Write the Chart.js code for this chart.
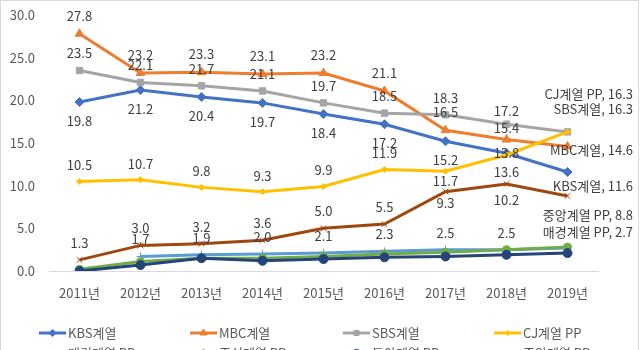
<!DOCTYPE html>
<html>
<head>
<meta charset="utf-8">
<script src="https://cdn.jsdelivr.net/npm/chart.js@4.4.1/dist/chart.umd.min.js"></script>
<style>
  body { margin: 0; background: #fff; }
  #wrap { width: 640px; height: 350px; }
</style>
</head>
<body>
<div id="wrap"><canvas id="chart" width="640" height="350"></canvas></div>
<script>
const years = ["2011년", "2012년", "2013년", "2014년", "2015년", "2016년", "2017년", "2018년", "2019년"];
const yTicks = [0, 5, 10, 15, 20, 25, 30];

const kbs    = [19.8, 21.2, 20.4, 19.7, 18.4, 17.2, 15.2, 13.8, 11.6];
const mbc    = [27.8, 23.2, 23.3, 23.1, 23.2, 21.1, 16.5, 15.4, 14.6];
const sbs    = [23.5, 22.1, 21.7, 21.1, 19.7, 18.5, 18.3, 17.2, 16.3];
const cj     = [10.5, 10.7, 9.8, 9.3, 9.9, 11.9, 11.7, 13.6, 16.3];
const maekyung = [null, 1.7, 1.9, 2.0, 2.1, 2.3, 2.5, 2.5, 2.7];
const chosun = [0.2, 1.1, 1.5, 1.5, 1.7, 2.0, 2.2, 2.5, 2.8];
const donga  = [0.0, 0.7, 1.5, 1.2, 1.4, 1.6, 1.7, 1.9, 2.1];
const joongang = [1.3, 3.0, 3.2, 3.6, 5.0, 5.5, 9.3, 10.2, 8.8];

const FONT = "'Noto Sans CJK KR', 'Malgun Gothic', sans-serif";
Chart.defaults.font.family = FONT;

function series(label, data, color, style, radius, extra) {
  return Object.assign({
    label: label,
    data: data,
    borderColor: color,
    backgroundColor: color,
    pointBackgroundColor: color,
    pointBorderColor: color,
    pointStyle: style,
    pointRadius: radius,
    pointBorderWidth: 1,
    borderWidth: 3,
    tension: 0,
    spanGaps: false
  }, extra || {});
}

const datasets = [
  series("KBS계열", kbs, "#4472C4", "rectRot", 4.5, { labelDy: 19, labelFix: { 7: 0 }, endDy: 14 }),
  series("MBC계열", mbc, "#ED7D31", "triangle", 5, { labelDy: -18, labelFix: { 7: -12 }, endDy: 4 }),
  series("SBS계열", sbs, "#A5A5A5", "rect", 4.5, { labelDy: -17, labelFix: { 7: -13 }, endDy: -23 }),
  series("CJ계열 PP", cj, "#FFC000", "rectRot", 3, { labelDy: -16, labelFix: { 6: 10, 7: 17 }, endDy: -38 }),
  series("매경계열 PP", maekyung, "#5B9BD5", "cross", 4, { labelDy: -17, endDy: -16 }),
  series("조선계열 PP", chosun, "#70AD47", "circle", 4),
  series("동아계열 PP", donga, "#264478", "circle", 4.5),
  series("중앙계열 PP", joongang, "#9E480E", "crossRot", 4, { labelDy: -17, labelFix: { 6: 11, 7: 16 }, endDy: 19 })
];
datasets.forEach((d, i) => { d.order = datasets.length - i; });

const labelPlugin = {
  id: "valueLabels",
  afterDatasetsDraw(chart) {
    const ctx = chart.ctx;
    ctx.save();
    ctx.font = "13px " + FONT;
    ctx.fillStyle = "#404040";
    ctx.textBaseline = "middle";
    chart.data.datasets.forEach((ds, i) => {
      if (ds.labelDy === undefined) return;
      const meta = chart.getDatasetMeta(i);
      const last = ds.data.length - 1;
      ds.data.forEach((v, j) => {
        if (v === null) return;
        const pt = meta.data[j];
        if (j === last) {
          ctx.textAlign = "right";
          ctx.fillText(ds.label + ", " + v.toFixed(1), 633, pt.y + ds.endDy);
        } else {
          const dy = ds.labelFix && ds.labelFix[j] !== undefined ? ds.labelFix[j] : ds.labelDy;
          ctx.textAlign = "center";
          ctx.fillText(v.toFixed(1), pt.x, pt.y + dy);
        }
      });
    });
    ctx.restore();
  }
};

const legendPlugin = {
  id: "gridLegend",
  afterDraw(chart) {
    const ctx = chart.ctx;
    const cols = [39, 190, 343, 494];
    const rows = [333, 353];
    ctx.save();
    ctx.font = "13px " + FONT;
    ctx.textBaseline = "middle";
    ctx.textAlign = "left";
    chart.data.datasets.forEach((ds, i) => {
      const x = cols[i % 4];
      const y = rows[Math.floor(i / 4)];
      ctx.strokeStyle = ds.borderColor;
      ctx.lineWidth = 3;
      ctx.beginPath();
      ctx.moveTo(x, y);
      ctx.lineTo(x + 27, y);
      ctx.stroke();
      ctx.fillStyle = ds.borderColor;
      ctx.lineWidth = 1;
      Chart.helpers.drawPoint(ctx, { pointStyle: ds.pointStyle, rotation: 0, radius: ds.pointRadius * 0.8, borderWidth: 1 }, x + 13.5, y);
      ctx.fillStyle = "#595959";
      ctx.fillText(ds.label, x + 29, y);
    });
    // outer frame
    ctx.strokeStyle = "#d9d9d9";
    ctx.lineWidth = 1;
    ctx.strokeRect(0.5, 0.5, 638, 360);
    ctx.restore();
  }
};

new Chart(document.getElementById("chart"), {
  type: "line",
  data: { labels: years, datasets: datasets },
  options: {
    responsive: false,
    animation: false,
    layout: { padding: { top: 15, right: 42, bottom: 0, left: 0 } },
    plugins: {
      legend: { display: false },
      tooltip: { enabled: false }
    },
    scales: {
      x: {
        offset: true,
        grid: { display: false, drawTicks: false },
        border: { display: true, color: "#d9d9d9", width: 1 },
        ticks: { color: "#595959", font: { size: 13 }, padding: 14, maxRotation: 0 },
        afterFit(scale) { scale.height = 79; }
      },
      y: {
        min: 0,
        max: 30,
        afterBuildTicks(scale) { scale.ticks = yTicks.map(v => ({ value: v })); },
        grid: { display: false, drawTicks: false },
        border: { display: false },
        ticks: { color: "#595959", font: { size: 13 }, padding: 14, callback: v => v.toFixed(1) },
        afterFit(scale) { scale.width = 49; scale.paddingTop = 0; scale.paddingBottom = 0; }
      }
    }
  },
  plugins: [labelPlugin, legendPlugin]
});
</script>
</body>
</html>
